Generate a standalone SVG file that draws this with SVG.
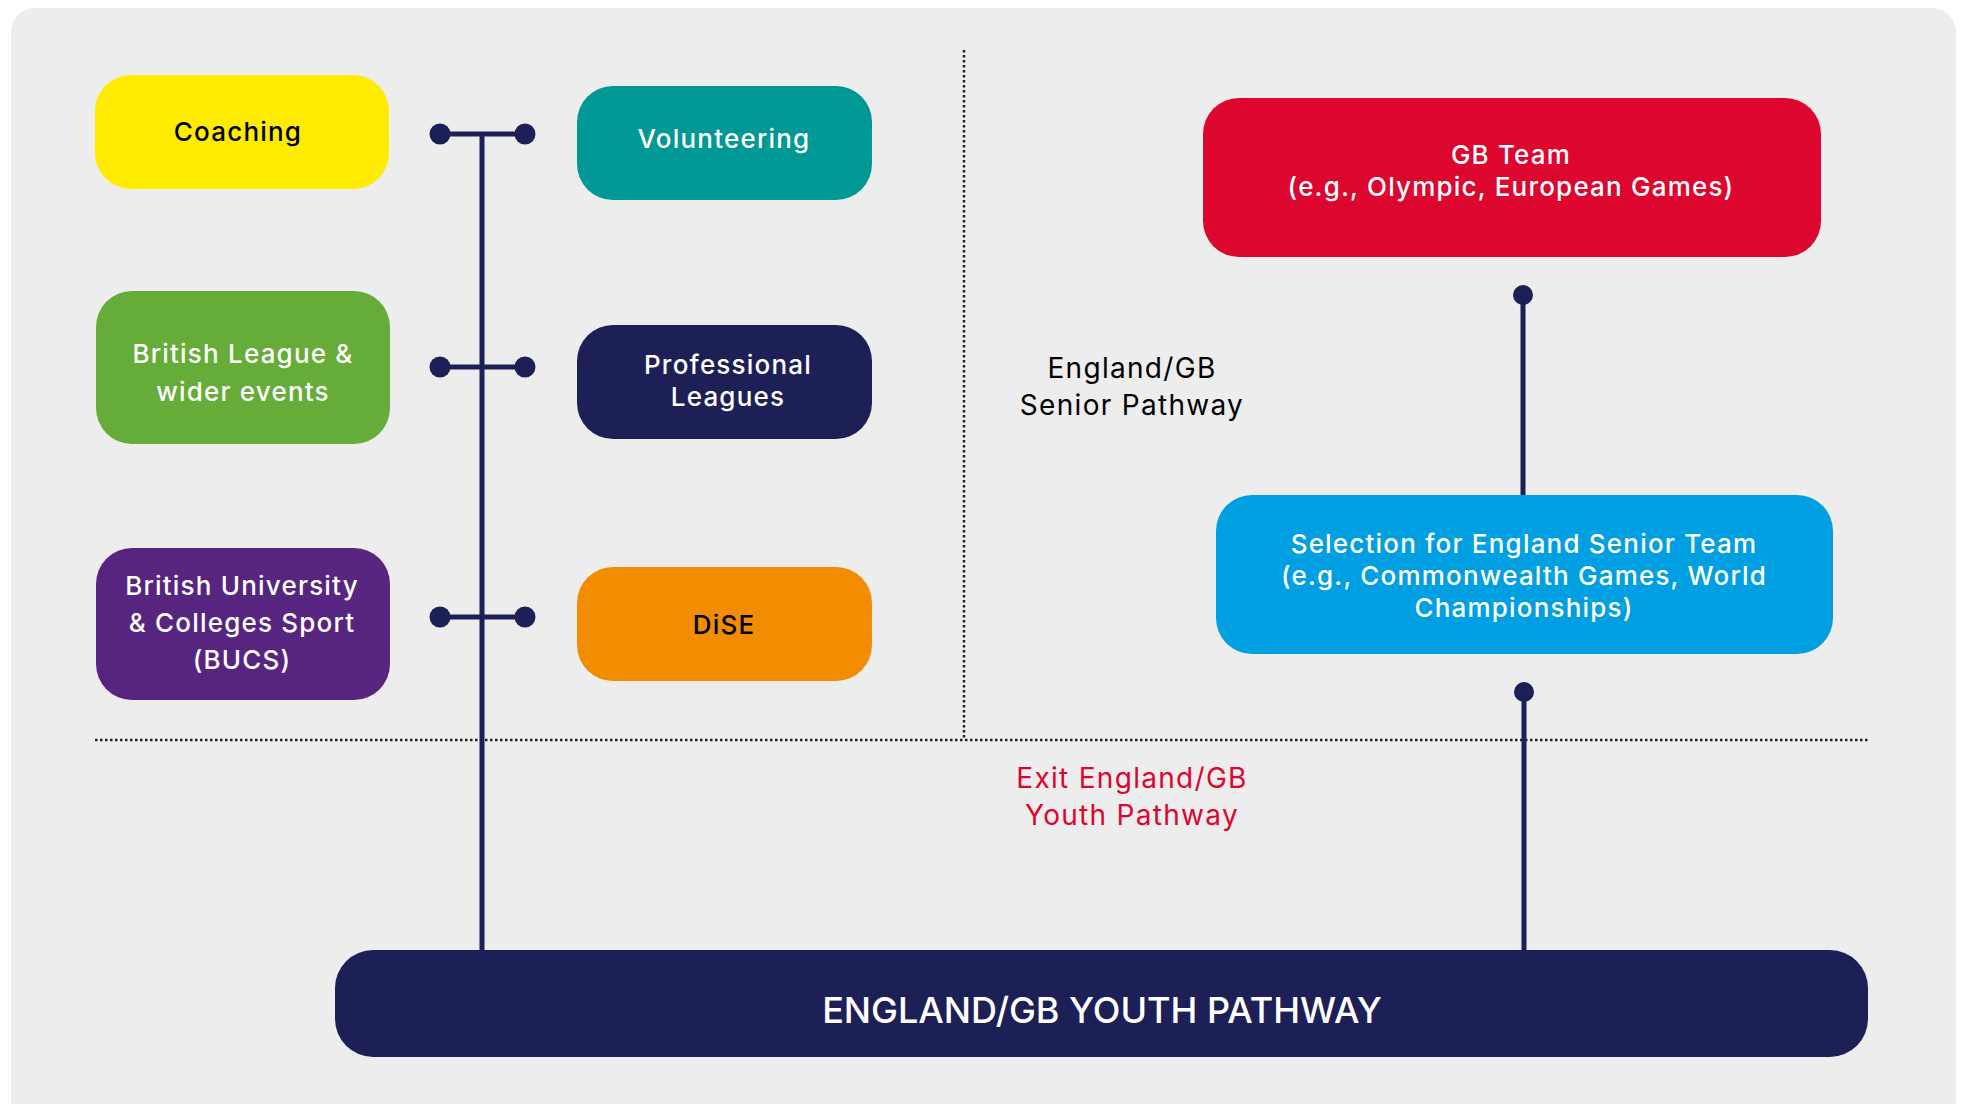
<svg xmlns="http://www.w3.org/2000/svg" width="1961" height="1104" viewBox="0 0 1961 1104">
  <style>
    .lbl { font-family: Inter, "Open Sans", "Liberation Sans", sans-serif; font-weight: 500; text-anchor: middle; dominant-baseline: central; letter-spacing: 1.2px; }
    .w { fill: #ffffff; }
    .k { fill: #000000; }
    .plain { font-family: Inter, "Open Sans", "Liberation Sans", sans-serif; font-weight: 400; text-anchor: middle; dominant-baseline: central; letter-spacing: 1.3px; }
    .conn { stroke: #1D2057; stroke-width: 5; fill: none; }
    .dot { fill: #1D2057; }
    .dotted { stroke: #222222; stroke-width: 2.5; stroke-dasharray: 2.5 2.5; fill: none; }
  </style>
  <rect x="0" y="0" width="1961" height="1104" fill="#ffffff"/>
  <rect id="background" x="11" y="8" width="1945" height="1130" rx="24" fill="#EDEDED"/>

  <g id="dividers">
    <line class="dotted" x1="964" y1="50" x2="964" y2="740"/>
    <line class="dotted" x1="95" y1="740" x2="1869" y2="740"/>
  </g>

  <g id="connectors">
    <line class="conn" x1="482" y1="134" x2="482" y2="952"/>
    <line class="conn" x1="440" y1="134" x2="525" y2="134"/>
    <line class="conn" x1="440" y1="367" x2="525" y2="367"/>
    <line class="conn" x1="440" y1="617" x2="525" y2="617"/>
    <circle class="dot" cx="440" cy="134" r="10.5"/>
    <circle class="dot" cx="525" cy="134" r="10.5"/>
    <circle class="dot" cx="440" cy="367" r="10.5"/>
    <circle class="dot" cx="525" cy="367" r="10.5"/>
    <circle class="dot" cx="440" cy="617" r="10.5"/>
    <circle class="dot" cx="525" cy="617" r="10.5"/>
    <line class="conn" x1="1523" y1="295" x2="1523" y2="497"/>
    <circle class="dot" cx="1523" cy="295" r="10"/>
    <line class="conn" x1="1524" y1="692" x2="1524" y2="952"/>
    <circle class="dot" cx="1524" cy="692" r="10"/>
  </g>

  <g id="coaching">
    <rect x="95" y="75" width="294" height="114" rx="36" fill="#FFEC00"/>
    <text class="lbl k" x="238" y="131" font-size="26">Coaching</text>
  </g>
  <g id="volunteering">
    <rect x="577" y="86" width="295" height="114" rx="36" fill="#009894"/>
    <text class="lbl w" x="724" y="138" font-size="26">Volunteering</text>
  </g>
  <g id="british-league">
    <rect x="96" y="291" width="294" height="153" rx="36" fill="#65AC38"/>
    <text class="lbl w" x="243" y="353" font-size="26">British League &amp;</text>
    <text class="lbl w" x="243" y="391" font-size="26">wider events</text>
  </g>
  <g id="professional-leagues">
    <rect x="577" y="325" width="295" height="114" rx="36" fill="#1D2057"/>
    <text class="lbl w" x="728" y="364" font-size="26">Professional</text>
    <text class="lbl w" x="728" y="396" font-size="26">Leagues</text>
  </g>
  <g id="bucs">
    <rect x="96" y="548" width="294" height="152" rx="36" fill="#57257F"/>
    <text class="lbl w" x="242" y="585" font-size="26">British University</text>
    <text class="lbl w" x="242" y="622" font-size="26">&amp; Colleges Sport</text>
    <text class="lbl w" x="242" y="659" font-size="26">(BUCS)</text>
  </g>
  <g id="dise">
    <rect x="577" y="567" width="295" height="114" rx="36" fill="#F28C00"/>
    <text class="lbl k" x="724" y="624" font-size="26">DiSE</text>
  </g>

  <g id="gb-team">
    <rect x="1203" y="98" width="618" height="159" rx="36" fill="#DC062F"/>
    <text class="lbl w" x="1511" y="154" font-size="26">GB Team</text>
    <text class="lbl w" x="1511" y="186" font-size="26">(e.g., Olympic, European Games)</text>
  </g>
  <g id="senior-pathway-label">
    <text class="plain k" x="1132" y="368" font-size="28">England/GB</text>
    <text class="plain k" x="1132" y="405" font-size="28">Senior Pathway</text>
  </g>
  <g id="selection-england">
    <rect x="1216" y="495" width="617" height="159" rx="36" fill="#009FE1"/>
    <text class="lbl w" x="1524" y="543" font-size="26">Selection for England Senior Team</text>
    <text class="lbl w" x="1524" y="575" font-size="26">(e.g., Commonwealth Games, World</text>
    <text class="lbl w" x="1524" y="607" font-size="26">Championships)</text>
  </g>
  <g id="exit-label">
    <text class="plain" fill="#DC0530" x="1132" y="778" font-size="28">Exit England/GB</text>
    <text class="plain" fill="#DC0530" x="1132" y="815" font-size="28">Youth Pathway</text>
  </g>
  <g id="youth-pathway">
    <rect x="335" y="950" width="1533" height="107" rx="38" fill="#1D2057"/>
    <text class="lbl w" x="1102" y="1010" font-size="36" style="letter-spacing:0">ENGLAND/GB YOUTH PATHWAY</text>
  </g>
</svg>
